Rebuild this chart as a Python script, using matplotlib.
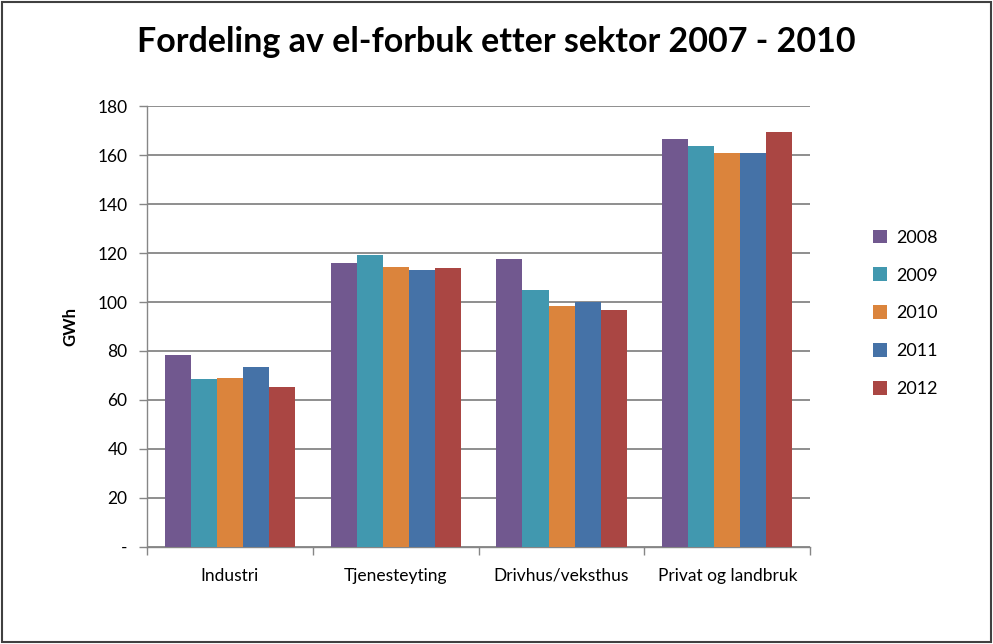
import numpy as np
import matplotlib
matplotlib.use('Agg')
import matplotlib.pyplot as plt
from matplotlib.patches import Rectangle

# Data (GWh)
sectors = ['Industri', 'Tjenesteyting', 'Drivhus/veksthus', 'Privat og landbruk']
years = ['2008', '2009', '2010', '2011', '2012']
v2008 = [78.3, 116.1, 117.7, 166.5]
v2009 = [68.5, 119.3, 105.1, 163.6]
v2010 = [68.9, 114.4, 98.2, 160.8]
v2011 = [73.4, 113.2, 100.2, 160.8]
v2012 = [65.2, 114.0, 96.9, 169.3]
series = [v2008, v2009, v2010, v2011, v2012]
colors = ['#71588F', '#4198AF', '#DB843C', '#4572A7', '#AA4643']

yticks = [0, 20, 40, 60, 80, 100, 120, 140, 160, 180]
ytick_labels = ['-', '20', '40', '60', '80', '100', '120', '140', '160', '180']

plt.rcParams['font.family'] = ['Lato', 'DejaVu Sans']

fig = plt.figure(figsize=(9.93, 6.44), dpi=100)
ax = fig.add_axes([0.148, 0.151, 0.668, 0.684])

grid_col = '#868686'
n = len(years)
bw = 0.157
x = np.arange(len(sectors))
for i, (vals, col) in enumerate(zip(series, colors)):
    ax.bar(x + (i - (n - 1) / 2) * bw, vals, width=bw, color=col,
           label=years[i], zorder=3)

ax.set_xlim(-0.5, len(sectors) - 0.5)
ax.set_ylim(0, 180)
ax.set_yticks(yticks)
ax.set_yticklabels(ytick_labels, fontsize=12.5)
ax.yaxis.grid(True, color=grid_col, linewidth=1.3, zorder=0)

# category labels centred, tick marks between categories
ax.set_xticks(x)
ax.set_xticklabels(sectors, fontsize=12.5)
ax.tick_params(axis='x', length=0, pad=15)
ax.set_xticks(np.arange(-0.5, len(sectors)), minor=True)
ax.tick_params(axis='x', which='minor', length=6, color=grid_col, width=1.0)
ax.tick_params(axis='y', length=6, color=grid_col, width=1.0, pad=8)

for s in ['top', 'right']:
    ax.spines[s].set_visible(False)
for s in ['left', 'bottom']:
    ax.spines[s].set_color(grid_col)
    ax.spines[s].set_linewidth(1.0)

ax.set_ylabel('GWh', fontsize=12, fontweight='bold', labelpad=14)

fig.text(0.5, 0.935, 'Fordeling av el-forbuk etter sektor 2007 - 2010',
         ha='center', va='center', fontsize=24.5, fontweight='bold')

leg = ax.legend(loc='center left', bbox_to_anchor=(1.07, 0.53), frameon=False,
                fontsize=13, handlelength=0.8, handleheight=0.8,
                labelspacing=1.2, handletextpad=0.5)

# outer chart border
fig.patches.append(Rectangle((0.002, 0.003), 0.996, 0.994, transform=fig.transFigure,
                             fill=False, edgecolor='#404040', linewidth=1.5))

fig.savefig('out.png', dpi=100)
